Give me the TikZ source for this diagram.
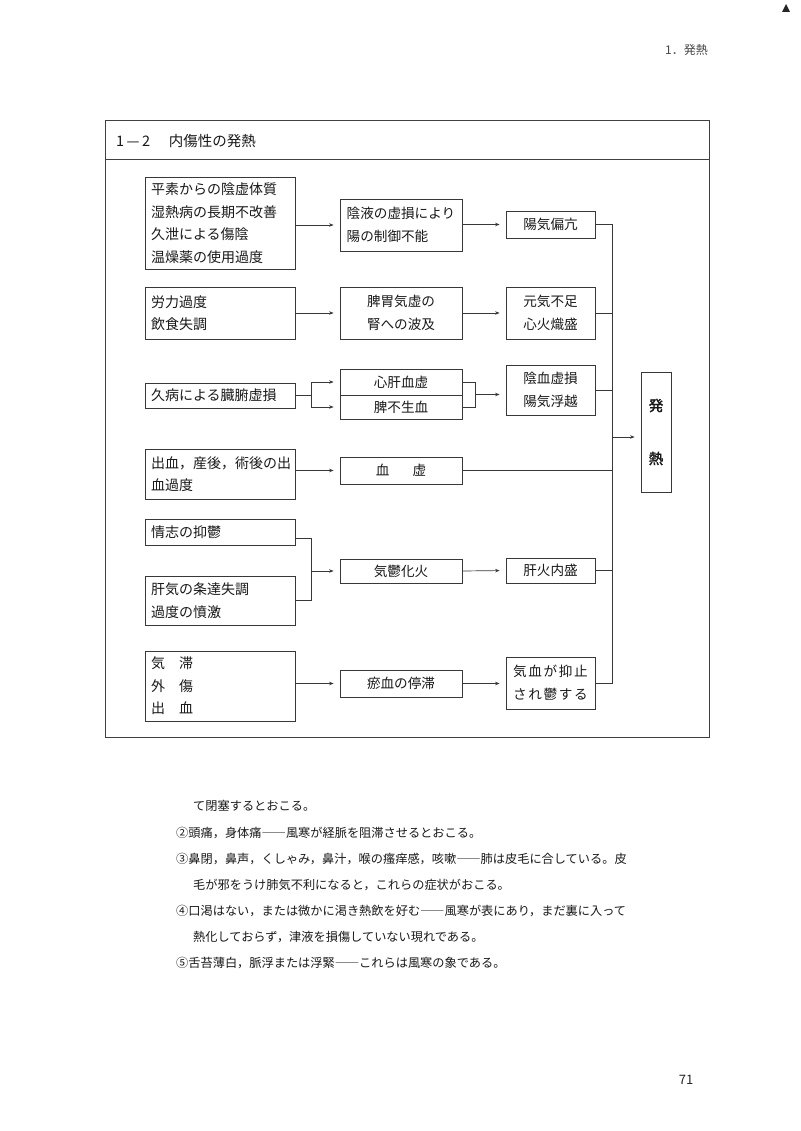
\documentclass[tikz,border=0pt]{standalone}
\usepackage{fontspec}
\setmainfont{Noto Sans CJK JP}
\newfontfamily\jpls{Noto Sans CJK JP}[LetterSpace=12]
\newfontfamily\jpbf{Noto Sans CJK JP}[FakeBold=2]
\usetikzlibrary{arrows.meta,calc}
\begin{document}
\begin{tikzpicture}[x=1pt,y=-1pt,
  box/.style={draw=black!78, line width=0.8pt, inner sep=0pt, text=black!90,
    font=\fontsize{13.6}{23}\selectfont},
  lbox/.style={box, text width=138pt, inner xsep=6pt, align=left, font=\fontsize{14}{22.5}\selectfont},
  cbox/.style={box, align=left},
  arr/.style={-{Stealth[length=4.5pt,width=3.5pt]}, draw=black!78, line width=0.7pt, shorten >=6pt},
  ln/.style={draw=black!78, line width=0.7pt},
  body/.style={anchor=west, inner sep=0pt, text=black!90, font=\fontsize{12.2}{12.2}\selectfont}
]
\fill[white] (0,0) rectangle (800,1131);
\useasboundingbox (0,0) rectangle (800,1131);

% page header / footer
\node[anchor=east, inner sep=0pt, text=black!72, font=\fontsize{12}{12}\selectfont] (runhead) at (708,50) {1．発熱};
\node[inner sep=0pt, text=black!85, font=\fontsize{13}{13}\selectfont] (pageno) at (686,1080) {71};
\fill[black!85] (786,4) -- (790,12) -- (782,12) -- cycle;

% frame
\draw[draw=black!75, line width=0.9pt] (105,120) rectangle (709,737);
\draw[draw=black!75, line width=0.9pt] (105,159) -- (709,159);
\node[anchor=west, inner sep=0pt, text=black!90, font=\fontsize{14.5}{14.5}\selectfont] (hdr) at (116,141) {1\,—\,2\hspace{1.3em}内傷性の発熱};

% row 1
\node[lbox, minimum height=92pt] (a1) at (220,223) {平素からの陰虚体質\\湿熱病の長期不改善\\久泄による傷陰\\温燥薬の使用過度};
\node[cbox, minimum width=122pt, minimum height=52pt] (b1) at (401,225) {陰液の虚損により\\陽の制御不能};
\node[cbox, minimum width=89pt, minimum height=27pt] (c1) at (550.5,224.5) {陽気偏亢};
% row 2
\node[lbox, minimum height=52pt] (a2) at (220,313) {労力過度\\飲食失調};
\node[cbox, minimum width=122pt, minimum height=52pt] (b2) at (401,313) {脾胃気虚の\\腎への波及};
\node[cbox, minimum width=89pt, minimum height=52pt] (c2) at (550.5,313) {元気不足\\心火熾盛};
% row 3
\node[lbox, minimum height=25pt] (a3) at (220,395.5) {久病による臓腑虚損};
\node[cbox, minimum width=122pt, minimum height=26pt] (b3a) at (401,382) {心肝血虚};
\node[cbox, minimum width=122pt, minimum height=24pt] (b3b) at (401,407) {脾不生血};
\node[cbox, minimum width=89pt, minimum height=50pt] (c3) at (550.5,390) {陰血虚損\\陽気浮越};
% row 4
\node[lbox, minimum height=50pt] (a4) at (220,474) {出血，産後，術後の出\\血過度};
\node[cbox, minimum width=122pt, minimum height=27pt] (b4) at (401,470.5) {血\hspace{1.7em}虚};
% row 5
\node[lbox, minimum height=26pt] (a5a) at (220,532) {情志の抑鬱};
\node[lbox, minimum height=49pt] (a5b) at (220,600.5) {肝気の条達失調\\過度の憤激};
\node[cbox, minimum width=122pt, minimum height=24pt] (b5) at (401,571) {気鬱化火};
\node[cbox, minimum width=89pt, minimum height=25pt] (c5) at (550.5,570.5) {肝火内盛};
% row 6
\node[lbox, minimum height=70pt] (a6) at (220,686) {気　滞\\外　傷\\出　血};
\node[cbox, minimum width=122pt, minimum height=27pt] (b6) at (401,683.5) {瘀血の停滞};
\node[cbox, minimum width=89pt, minimum height=52pt] (c6) at (550.5,683) {\jpls 気血が抑止\\\jpls され鬱する};
% result
\node[box, align=center, minimum width=30pt, minimum height=120pt, font=\fontsize{14.5}{53}\selectfont] (fever) at (656,432) {\jpbf 発\\\jpbf 熱};

% helper x positions
\coordinate (j3x) at (311,0);
\coordinate (k3x) at (475,0);
\coordinate (busx) at (612,0);
\coordinate (fin) at ([yshift=-5pt]fever.west);

% connectors
\draw[arr] (a1.east |- b1.west) -- (b1.west);
\draw[arr] (b1.east |- c1.west) -- (c1.west);
\draw[arr] (a2.east) -- (b2.west);
\draw[arr] (b2.east) -- (c2.west);

\draw[ln] (a3.east) -- (a3.east -| j3x);
\draw[ln] (b3a.west -| j3x) -- (b3b.west -| j3x);
\draw[arr] (b3a.west -| j3x) -- (b3a.west);
\draw[arr] (b3b.west -| j3x) -- (b3b.west);
\draw[ln] (b3a.east) -- (b3a.east -| k3x) -- (b3b.east -| k3x) -- (b3b.east);
\coordinate (m3) at ($(b3a.east -| k3x)!0.5!(b3b.east -| k3x)$);
\draw[arr] (m3) -- (m3 -| c3.west);

\draw[arr] (a4.east |- b4.west) -- (b4.west);

\draw[ln] ([yshift=-6pt]a5a.east) -| (j3x |- a5b.east) -- (a5b.east);
\draw[arr] (j3x |- b5.west) -- (b5.west);
\draw[arr] (b5.east) -- (c5.west);

\draw[arr] (a6.east |- b6.west) -- (b6.west);
\draw[arr] (b6.east) -- (b6.east -| c6.west);

% bus
\draw[ln] (c1.east) -- (c1.east -| busx) -- (c6.east -| busx) -- (c6.east);
\draw[ln] (c2.east) -- (c2.east -| busx);
\draw[ln] (c3.east) -- (c3.east -| busx);
\draw[ln] (b4.east) -- (b4.east -| busx);
\draw[ln] (c5.east) -- (c5.east -| busx);
\draw[arr] (busx |- fin) -- (fin);

% body text
\node[body] (t1) at (193,806) {て閉塞するとおこる。};
\node[body] (t2) at (176,833) {②頭痛，身体痛――風寒が経脈を阻滞させるとおこる。};
\node[body] (t3) at (176,859) {③鼻閉，鼻声，くしゃみ，鼻汁，喉の瘙痒感，咳嗽――肺は皮毛に合している。皮};
\node[body] (t4) at (193,885) {毛が邪をうけ肺気不利になると，これらの症状がおこる。};
\node[body] (t5) at (176,911) {④口渇はない，または微かに渇き熱飲を好む――風寒が表にあり，まだ裏に入って};
\node[body] (t6) at (193,937) {熱化しておらず，津液を損傷していない現れである。};
\node[body] (t7) at (176,963) {⑤舌苔薄白，脈浮または浮緊――これらは風寒の象である。};
\end{tikzpicture}
\end{document}
